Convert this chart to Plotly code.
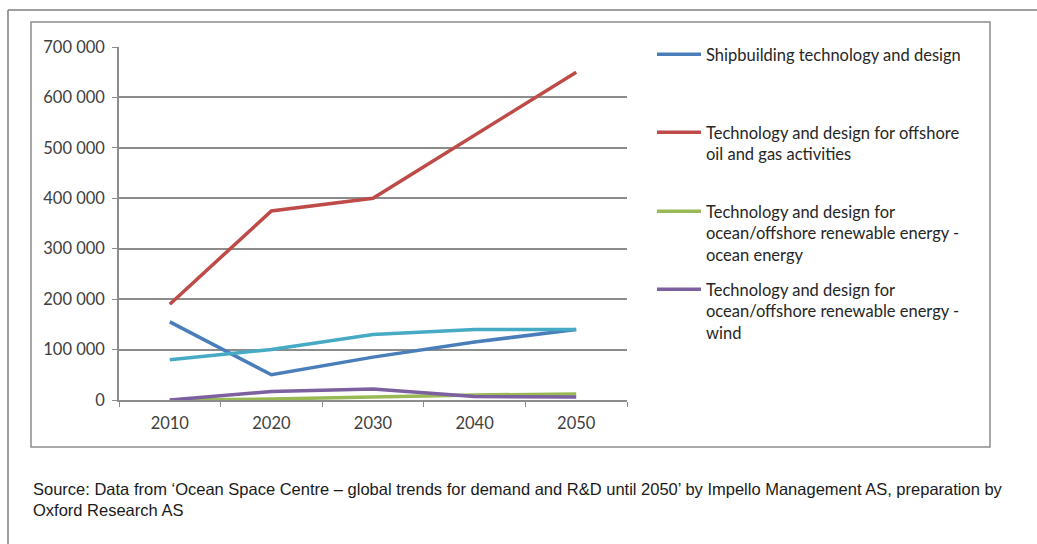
import plotly.graph_objects as go

years = ["2010", "2020", "2030", "2040", "2050"]
shipbuilding = [155000, 50000, 85000, 115000, 140000]
offshore_oil_gas = [190000, 375000, 400000, 525000, 650000]
ocean_energy = [0, 2000, 6000, 10000, 12000]
wind = [0, 17000, 22000, 7000, 6000]
unlabeled = [80000, 100000, 130000, 140000, 140000]

names = [
    "Shipbuilding technology and design",
    "Technology and design for offshore<br>oil and gas activities",
    "Technology and design for<br>ocean/offshore renewable energy -<br>ocean energy",
    "Technology and design for<br>ocean/offshore renewable energy -<br>wind",
]
colors = ["#4A7EBB", "#BE4B48", "#98B954", "#7D60A0", "#46AAC5"]

W, H = 1037, 544
L, R, T, B = 119, 627, 47, 400
pw, ph = R - L, B - T


def px(x):
    return (x - L) / pw


def py(y):
    return (B - y) / ph


fig = go.Figure()
series = [shipbuilding, offshore_oil_gas, ocean_energy, wind]
legend_tops = [37, 115, 194, 272]
for i, s in enumerate(series):
    lg = "legend" if i == 0 else f"legend{i+1}"
    fig.add_trace(go.Scatter(x=years, y=s, mode="lines", name=names[i],
                             line=dict(color=colors[i], width=3.5), legend=lg))
fig.add_trace(go.Scatter(x=years, y=unlabeled, mode="lines", showlegend=False,
                         line=dict(color=colors[4], width=3.5)))

legend_font = dict(family="Lato", size=16.5, color="#262626")
for i, top in enumerate(legend_tops):
    key = "legend" if i == 0 else f"legend{i+1}"
    fig.update_layout(**{key: dict(x=px(652), y=py(top), xanchor="left", yanchor="top",
                                   bgcolor="rgba(0,0,0,0)", borderwidth=0, itemwidth=44,
                                   font=legend_font, valign="top")})

shapes = [
    dict(type="rect", xref="paper", yref="paper", x0=px(31), x1=px(990), y0=py(447), y1=py(22),
         line=dict(color="#8C8C8C", width=1.5)),
    dict(type="line", xref="paper", yref="paper", x0=px(8), x1=px(1037), y0=py(10), y1=py(10),
         line=dict(color="#7F7F7F", width=1.5)),
    dict(type="line", xref="paper", yref="paper", x0=px(8), x1=px(8), y0=py(10), y1=py(544),
         line=dict(color="#7F7F7F", width=1.5)),
]

tick_font = dict(family="Lato", size=16.5, color="#404040")
fig.update_layout(
    width=W, height=H,
    margin=dict(l=L, r=W - R, t=T, b=H - B),
    paper_bgcolor="white", plot_bgcolor="white",
    separators=". ",
    shapes=shapes,
    xaxis=dict(range=[-0.5, 4.5], showgrid=False, showline=True, linecolor="#8C8C8C", linewidth=1.5,
               ticks="outside", ticklen=5, tickcolor="#8C8C8C", tickson="boundaries",
               ticklabelstandoff=7, tickfont=tick_font, fixedrange=True),
    yaxis=dict(range=[0, 700000], dtick=100000, tickformat=",d", showgrid=True,
               gridcolor="#8C8C8C", gridwidth=1.5, showline=True, linecolor="#8C8C8C",
               linewidth=1.5, ticks="outside", ticklen=5, tickcolor="#8C8C8C",
               zeroline=False, ticklabelstandoff=4,
               tickfont=tick_font, fixedrange=True),
    annotations=[dict(xref="paper", yref="paper", x=px(31), y=py(478), xanchor="left", yanchor="top",
                      align="left", showarrow=False,
                      text="Source: Data from ‘Ocean Space Centre – global trends for demand and R&D until 2050’ by Impello Management AS, preparation by<br>Oxford Research AS",
                      font=dict(family="Liberation Sans", size=16.5, color="#1A1A1A"))],
)

fig.write_html("out.html")
